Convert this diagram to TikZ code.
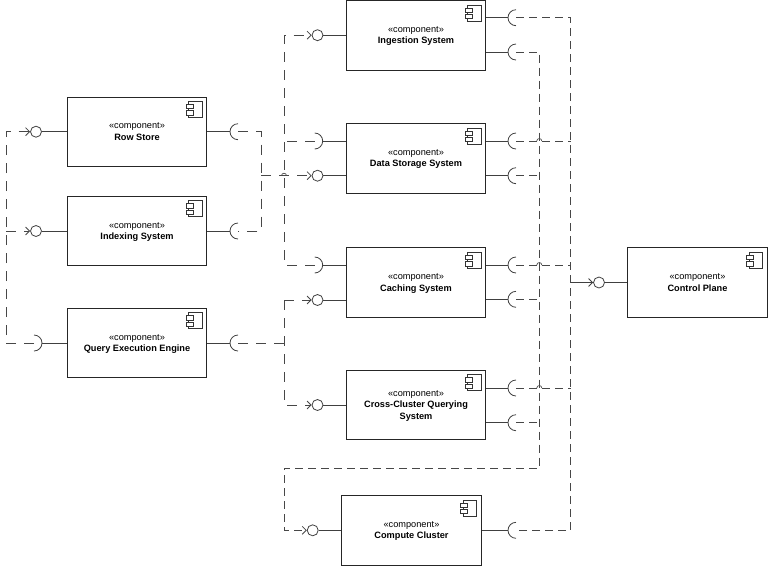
\documentclass[tikz,border=0pt]{standalone}
\usepackage{fontspec}
\setmainfont{Liberation Sans}
\usetikzlibrary{arrows.meta}
\usetikzlibrary{positioning}

% component icon in the corner of a box
\newcommand{\compicon}[1]{
	\begin{scope}[shift={(#1.north east)}, line width=0.7pt, draw=black!80]
		\draw (-18.7,5) rectangle (-5.3,21);
		\draw[fill=white] (-21.3,8) rectangle (-14.3,12.3);
		\draw[fill=white] (-21.3,14.3) rectangle (-14.3,18.7);
	\end{scope}
}
% half circle of a required interface
\newcommand{\sockright}[1]{\draw[stemline] (#1.north) arc[start angle=270, end angle=90, radius=8];}
\newcommand{\sockleft}[1]{\draw[stemline] (#1.north) arc[start angle=270, end angle=450, radius=8];}
% small jump of a line over another one
\newcommand{\linejump}[1]{\draw[line width=0.7pt, draw=black!70] #1 ++(-2.5,0) arc[start angle=180, end angle=360, radius=2.5];}

\tikzset{
	stemline/.style={line width=0.8pt, draw=black!75},
	wire/.style={line width=0.8pt, draw=black!72, dash pattern=on 8pt off 5pt},
	widewire/.style={line width=0.8pt, draw=black!72, dash pattern=on 10pt off 8pt},
	>={Straight Barb[length=4pt, width=8pt]}
}

\begin{document}
\begin{tikzpicture}[x=1pt, y=-1pt]
	\useasboundingbox (0,0) rectangle (768,566);

	\coordinate (busa) at (6,0);
	\coordinate (busb) at (261,0);
	\coordinate (busc) at (284,0);
	\coordinate (busd) at (539.3,0);
	\coordinate (buse) at (570.7,0);

	\begin{scope}[every node/.style={rectangle, draw=black!85, line width=0.9pt, minimum width=139.5, minimum height=69.5,
	              align=center, font=\fontsize{9.2}{11.4}\selectfont, inner sep=0pt, text depth=-0.8pt}]
		\node (row) at (137,131.7) {«component»\\\textbf{Row Store}};
		\node (index) at (137,231) {«component»\\\textbf{Indexing System}};
		\node (query) at (137,343) {«component»\\\textbf{Query Execution Engine}};
		\node (ingest) at (416,35.2) {«component»\\\textbf{Ingestion System}};
		\node (data) at (416,158.3) {«component»\\\textbf{Data Storage System}};
		\node (cache) at (416,282.5) {«component»\\\textbf{Caching System}};
		\node (cross) at (416,405) {«component»\\\textbf{Cross-Cluster Querying}\\\textbf{System}};
		\node (compute) at (411.5,530.3) {«component»\\\textbf{Compute Cluster}};
		\node (control) at (697.5,282.5) {«component»\\\textbf{Control Plane}};
	\end{scope}

	\compicon{row}
	\compicon{index}
	\compicon{query}
	\compicon{ingest}
	\compicon{data}
	\compicon{cache}
	\compicon{cross}
	\compicon{compute}
	\compicon{control}

	% provided interfaces
	\begin{scope}[every node/.style={circle, draw=black!75, line width=0.8pt, minimum size=11, inner sep=0pt}]
		\node (rowlolli) at (36,131.7) {};
		\node (indexlolli) at (36,231) {};
		\node (ingestlolli) at (317.5,35.2) {};
		\node (datalolli) at (317.5,175.7) {};
		\node (cachelolli) at (317.5,300) {};
		\node (crosslolli) at (317.5,405) {};
		\node (computelolli) at (312.7,530.3) {};
		\node (controllolli) at (599,282.5) {};
	\end{scope}

	% required interfaces
	\begin{scope}[every node/.style={circle, minimum size=16, inner sep=0pt, outer sep=0pt}]
		\node (rowsock) at (238,131.7) {};
		\node (indexsock) at (238,231) {};
		\node (querysock) at (238,343) {};
		\node (querysockin) at (34,343) {};
		\node (ingestsocka) at (516,17.7) {};
		\node (ingestsockb) at (516,52) {};
		\node (datasockin) at (314.7,141) {};
		\node (datasocka) at (516,141) {};
		\node (datasockb) at (516,175.7) {};
		\node (cachesockin) at (314.7,265) {};
		\node (cachesocka) at (516,265) {};
		\node (cachesockb) at (516,299.3) {};
		\node (crosssocka) at (516,388) {};
		\node (crosssockb) at (516,422.7) {};
		\node (computesock) at (516,530.3) {};
	\end{scope}

	\sockright{rowsock}
	\sockright{indexsock}
	\sockright{querysock}
	\sockleft{querysockin}
	\sockright{ingestsocka}
	\sockright{ingestsockb}
	\sockleft{datasockin}
	\sockright{datasocka}
	\sockright{datasockb}
	\sockleft{cachesockin}
	\sockright{cachesocka}
	\sockright{cachesockb}
	\sockright{crosssocka}
	\sockright{crosssockb}
	\sockright{computesock}

	% stems from the boxes
	\begin{scope}[every edge/.style={draw, stemline}]
		\path (rowlolli) edge (rowlolli -| row.west);
		\path (indexlolli) edge (indexlolli -| index.west);
		\path (ingestlolli) edge (ingestlolli -| ingest.west);
		\path (datalolli) edge (datalolli -| data.west);
		\path (cachelolli) edge (cachelolli -| cache.west);
		\path (crosslolli) edge (crosslolli -| cross.west);
		\path (computelolli) edge (computelolli -| compute.west);
		\path (controllolli) edge (controllolli -| control.west);
		\path (rowsock.west) edge (rowsock -| row.east);
		\path (indexsock.west) edge (indexsock -| index.east);
		\path (querysock.west) edge (querysock -| query.east);
		\path (querysockin.east) edge (querysockin -| query.west);
		\path (ingestsocka.west) edge (ingestsocka -| ingest.east);
		\path (ingestsockb.west) edge (ingestsockb -| ingest.east);
		\path (datasockin.east) edge (datasockin -| data.west);
		\path (datasocka.west) edge (datasocka -| data.east);
		\path (datasockb.west) edge (datasockb -| data.east);
		\path (cachesockin.east) edge (cachesockin -| cache.west);
		\path (cachesocka.west) edge (cachesocka -| cache.east);
		\path (cachesockb.west) edge (cachesockb -| cache.east);
		\path (crosssocka.west) edge (crosssocka -| cross.east);
		\path (crosssockb.west) edge (crosssockb -| cross.east);
		\path (computesock.west) edge (computesock -| compute.east);
	\end{scope}

	% dashed routes
	\draw[widewire, ->] (querysockin.center) -- (querysockin -| busa) -- (rowlolli -| busa) -- (rowlolli.west);
	\draw[widewire, ->] (indexlolli -| busa) -- (indexlolli.west);
	\draw[widewire] (rowsock.center) -- (rowsock -| busb) -- (indexsock -| busb) -- (indexsock.center);
	\draw[widewire, ->] (datalolli -| busb) -- (datalolli.west);
	\draw[widewire, ->] (cachesockin.center) -- (cachesockin -| busc) -- (ingestlolli -| busc) -- (ingestlolli.west);
	\draw[widewire] (datasockin.center) -- (datasockin -| busc);
	\draw[widewire] (querysock.center) -- (querysock -| busc);
	\draw[widewire, ->] (cachelolli -| busc) -- (crosslolli -| busc) -- (crosslolli.west);
	\draw[widewire, ->] (cachelolli -| busc) -- (cachelolli.west);
	\draw[wire] (ingestsocka.center) -- (ingestsocka -| buse) -- (computesock -| buse) -- (computesock.center);
	\draw[wire] (datasocka.center) -- (datasocka -| buse);
	\draw[wire] (cachesocka.center) -- (cachesocka -| buse);
	\draw[wire] (crosssocka.center) -- (crosssocka -| buse);
	\draw[stemline, ->] (controllolli -| buse) -- (controllolli.west);
	\coordinate (turnd) at (busd |- 0,468);
	\coordinate (turnc) at (busc |- 0,468);
	\draw[wire, ->] (ingestsockb.center) -- (ingestsockb -| busd) -- (turnd) -- (turnc) -- (computelolli -| busc) -- (computelolli.west);
	\draw[wire] (datasockb.center) -- (datasockb -| busd);
	\draw[wire] (cachesockb.center) -- (cachesockb -| busd);
	\draw[wire] (crosssockb.center) -- (crosssockb -| busd);

	% jumps at the crossings
	\linejump{(datalolli -| busc)}
	\linejump{(datasocka -| busd)}
	\linejump{(cachesocka -| busd)}
	\linejump{(crosssocka -| busd)}
\end{tikzpicture}
\end{document}
